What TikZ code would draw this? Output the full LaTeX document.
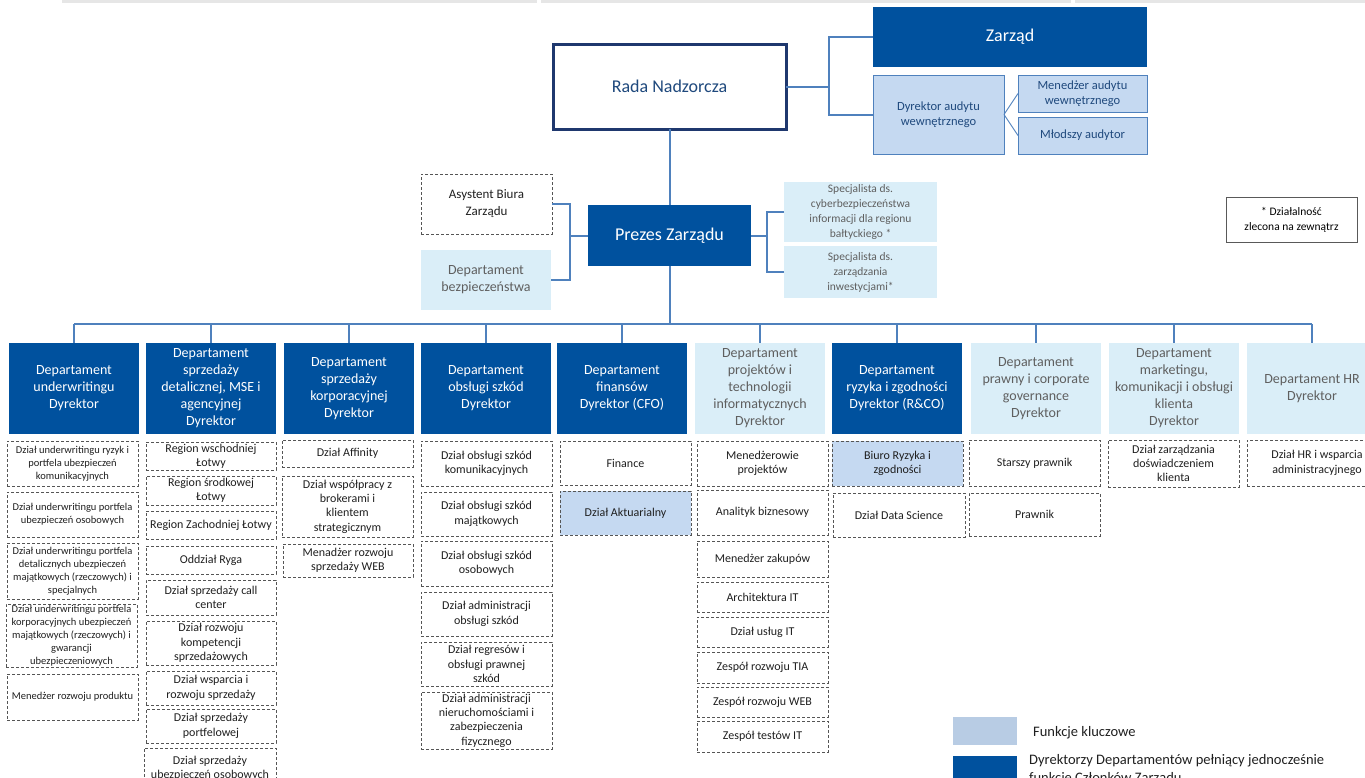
\documentclass[tikz,border=0pt]{standalone}
\usepackage{fontspec}
\setmainfont{Carlito}
\usetikzlibrary{calc}
\definecolor{dblue}{RGB}{0,81,158}
\definecolor{lcyan}{RGB}{218,238,248}
\definecolor{keyblue}{RGB}{197,217,241}
\definecolor{legkey}{RGB}{184,204,228}
\definecolor{connblue}{RGB}{79,129,189}
\definecolor{navy}{RGB}{31,56,110}
\definecolor{navytext}{RGB}{31,73,125}
\definecolor{graytext}{RGB}{95,95,95}
\definecolor{dashgray}{RGB}{85,85,85}
\definecolor{bargray}{RGB}{230,230,230}
\newcommand\fBig{\fontsize{18}{22}\selectfont}
\newcommand\fHead{\fontsize{14}{17}\selectfont}
\newcommand\fSub{\fontsize{12}{14.3}\selectfont}
\newcommand\fSmall{\fontsize{10.5}{13}\selectfont}
\newcommand\fMid{\fontsize{12.5}{15}\selectfont}
\newcommand\fSpec{\fontsize{11.5}{15}\selectfont}
\newcommand\fAsys{\fontsize{13}{17}\selectfont}
\newcommand\fLeg{\fontsize{14.5}{18}\selectfont}
\newcommand\orgbox[7]{\node[#2, minimum width={#5-#3}, minimum height={#6-#4}] (#1) at ({(#3+#5)/2},{(#4+#6)/2}) {#7};}
\begin{document}
\begin{tikzpicture}[x=1pt,y=-1pt,
  basebox/.style={inner sep=1pt, outer sep=0pt, align=center},
  darkbox/.style={basebox, fill=dblue, text=white},
  cyanbox/.style={basebox, fill=lcyan, text=graytext},
  dashbox/.style={basebox, draw=dashgray, line width=0.9pt, dash pattern=on 3pt off 2pt, text=black!88, font=\fSub},
  dashsmall/.style={dashbox, font=\fSmall},
  keydash/.style={dashbox, fill=keyblue},
  keybox/.style={basebox, fill=keyblue, draw=connblue, line width=0.9pt, text=navytext},
  headdark/.style={darkbox, font=\fHead},
  headcyan/.style={cyanbox, font=\fHead},
  wire/.style={draw=connblue, line width=2pt},
  thinwire/.style={draw=connblue, line width=0.9pt},
]
\useasboundingbox (0,0) rectangle (1365,777);
\clip (0,0) rectangle (1365,777);

% top grey strips
\fill[bargray] (62,0) rectangle (537,3);
\fill[bargray] (541,0) rectangle (1071,3);
\fill[bargray] (1075,0) rectangle (1365,3);

% top level
\orgbox{zarzad}{darkbox,font=\fBig}{873}{7}{1147}{67}{Zarząd}
\orgbox{rada}{basebox,fill=white,draw=navy,line width=3pt,text=navytext,font=\fBig}{553}{44}{786}{129}{Rada Nadzorcza}
\orgbox{dyr}{keybox,font=\fMid}{873}{75}{1004}{154}{Dyrektor audytu\\wewnętrznego}
\orgbox{men}{keybox,font=\fMid}{1018}{75}{1147}{112}{Menedżer audytu\\wewnętrznego}
\orgbox{mlo}{keybox,font=\fMid}{1018}{117}{1147}{154}{Młodszy audytor}

\orgbox{prezes}{darkbox,font=\fBig}{588}{205}{751}{266}{Prezes Zarządu}
\orgbox{asyst}{dashbox,font=\fAsys}{421}{174}{552}{234}{Asystent Biura\\Zarządu}
\orgbox{bezp}{cyanbox,font=\fHead}{421}{250}{551}{310}{Departament\\bezpieczeństwa}
\orgbox{spec1}{cyanbox,font=\fSpec}{784}{182}{937}{242}{Specjalista ds.\\cyberbezpieczeństwa\\informacji dla regionu\\bałtyckiego *}
\orgbox{spec2}{cyanbox,font=\fSpec}{784}{246}{937}{298}{Specjalista ds.\\zarządzania\\inwestycjami*}
\orgbox{foot}{basebox,draw=black!65,line width=0.8pt,font=\fSpec}{1226}{197}{1357}{242}{* Działalność\\zlecona na zewnątrz}

% connectors top
\coordinate (rbk) at (829,86.5);
\draw[wire] (rada.east) -- (rbk);
\draw[wire] (zarzad.west) -| (rbk);
\draw[wire] (dyr.west) -| (rbk);
\draw[thinwire] (dyr.east) -- (men.west);
\draw[thinwire] (dyr.east) -- (mlo.west);
\draw[wire] (rada.south) -- (prezes.north);
\coordinate (lbk) at (570,235.5);
\draw[wire] (prezes.west) -- (lbk);
\draw[wire] (asyst.east) -| (lbk);
\draw[wire] (bezp.east) -| (lbk);
\coordinate (rbk2) at (767,235.5);
\draw[wire] (prezes.east) -- (rbk2);
\draw[wire] (spec1.west) -| (rbk2);
\draw[wire] (spec2.west) -| (rbk2);

% departments
\orgbox{d1}{headdark}{9}{343}{139}{434}{Departament\\underwritingu\\Dyrektor}
\orgbox{d2}{headdark}{146}{343}{276}{434}{Departament\\sprzedaży\\detalicznej, MSE i\\agencyjnej\\Dyrektor}
\orgbox{d3}{headdark}{284}{343}{414}{434}{Departament\\sprzedaży\\korporacyjnej\\Dyrektor}
\orgbox{d4}{headdark}{421}{343}{551}{434}{Departament\\obsługi szkód\\Dyrektor}
\orgbox{d5}{headdark}{557}{343}{687}{434}{Departament\\finansów\\Dyrektor (CFO)}
\orgbox{d6}{headcyan}{695}{343}{825}{434}{Departament\\projektów i\\technologii\\informatycznych\\Dyrektor}
\orgbox{d7}{headdark}{832}{343}{962}{434}{Departament\\ryzyka i zgodności\\Dyrektor (R\&CO)}
\orgbox{d8}{headcyan}{971}{343}{1101}{434}{Departament\\prawny i corporate\\governance\\Dyrektor}
\orgbox{d9}{headcyan}{1109}{343}{1239}{434}{Departament\\marketingu,\\komunikacji i obsługi\\klienta\\Dyrektor}
\orgbox{d10}{headcyan}{1247}{343}{1377}{434}{Departament HR\\Dyrektor}

% bus
\coordinate (busy) at (0,324);
\draw[wire] (prezes.south) -- (prezes.south |- busy);
\draw[wire] (d1.north |- busy) -- (d10.north |- busy);
\foreach \d in {d1,d2,d3,d4,d5,d6,d7,d8,d9,d10}{
  \draw[wire] (\d.north |- busy) -- (\d.north);
}

% column 1
\orgbox{c1a}{dashsmall}{7}{441}{138}{486}{Dział underwritingu ryzyk i\\portfela ubezpieczeń\\komunikacyjnych}
\orgbox{c1b}{dashsmall}{7}{492}{138}{537}{Dział underwritingu portfela\\ubezpieczeń osobowych}
\orgbox{c1c}{dashsmall}{7}{543}{138}{599}{Dział underwritingu portfela\\detalicznych ubezpieczeń\\majątkowych (rzeczowych) i\\specjalnych}
\orgbox{c1d}{dashsmall}{6}{604}{137}{667}{Dział underwritingu portfela\\korporacyjnych ubezpieczeń\\majątkowych (rzeczowych) i\\gwarancji\\ubezpieczeniowych}
\orgbox{c1e}{dashsmall}{7}{674}{138}{720}{Menedżer rozwoju produktu}

% column 2
\orgbox{c2a}{dashbox}{146}{442}{276}{470}{Region wschodniej\\Łotwy}
\orgbox{c2b}{dashbox}{146}{476}{276}{505}{Region środkowej\\Łotwy}
\orgbox{c2c}{dashbox}{146}{511}{276}{539}{Region Zachodniej Łotwy}
\orgbox{c2d}{dashbox}{146}{546}{276}{574}{Oddział Ryga}
\orgbox{c2e}{dashbox}{146}{580}{276}{615}{Dział sprzedaży call\\center}
\orgbox{c2f}{dashbox}{146}{621}{276}{665}{Dział rozwoju\\kompetencji\\sprzedażowych}
\orgbox{c2g}{dashbox}{146}{671}{276}{705}{Dział wsparcia i\\rozwoju sprzedaży}
\orgbox{c2h}{dashbox}{146}{709}{276}{743}{Dział sprzedaży\\portfelowej}
\orgbox{c2i}{dashbox}{144}{748}{276}{788}{Dział sprzedaży\\ubezpieczeń osobowych}

% column 3
\orgbox{c3a}{dashbox}{282}{440}{413}{467}{Dział Affinity}
\orgbox{c3b}{dashbox}{282}{476}{413}{537}{Dział współpracy z\\brokerami i\\klientem\\strategicznym}
\orgbox{c3c}{dashbox}{283}{544}{413}{577}{Menadżer rozwoju\\sprzedaży WEB}

% column 4
\orgbox{c4a}{dashbox}{421}{441}{552}{486}{Dział obsługi szkód\\komunikacyjnych}
\orgbox{c4b}{dashbox}{421}{492}{552}{536}{Dział obsługi szkód\\majątkowych}
\orgbox{c4c}{dashbox}{421}{541}{552}{586}{Dział obsługi szkód\\osobowych}
\orgbox{c4d}{dashbox}{421}{592}{552}{636}{Dział administracji\\obsługi szkód}
\orgbox{c4e}{dashbox}{421}{642}{552}{686}{Dział regresów i\\obsługi prawnej\\szkód}
\orgbox{c4f}{dashbox}{421}{692}{552}{749}{Dział administracji\\nieruchomościami i\\zabezpieczenia\\fizycznego}

% column 5
\orgbox{c5a}{dashbox}{560}{441}{691}{485}{Finance}
\orgbox{c5b}{keydash}{560}{491}{691}{535}{Dział Aktuarialny}

% column 6
\orgbox{c6a}{dashbox}{697}{441}{828}{486}{Menedżerowie\\projektów}
\orgbox{c6b}{dashbox}{697}{490}{828}{535}{Analityk biznesowy}
\orgbox{c6c}{dashbox}{697}{541}{828}{577}{Menedżer zakupów}
\orgbox{c6d}{dashbox}{697}{582}{828}{612}{Architektura IT}
\orgbox{c6e}{dashbox}{697}{617}{828}{647}{Dział usług IT}
\orgbox{c6f}{dashbox}{697}{652}{828}{683}{Zespół rozwoju TIA}
\orgbox{c6g}{dashbox}{697}{687}{828}{717}{Zespół rozwoju WEB}
\orgbox{c6h}{dashbox}{697}{721}{828}{752}{Zespół testów IT}

% column 7
\orgbox{c7a}{keydash}{832}{441}{963}{486}{Biuro Ryzyka i\\zgodności}
\orgbox{c7b}{dashbox}{833}{493}{965}{537}{Dział Data Science}

% column 8
\orgbox{c8a}{dashbox}{969}{440}{1100}{486}{Starszy prawnik}
\orgbox{c8b}{dashbox}{969}{493}{1100}{536}{Prawnik}

% column 9
\orgbox{c9a}{dashbox}{1108}{440}{1239}{487}{Dział zarządzania\\doświadczeniem\\klienta}

% column 10
\orgbox{c10a}{dashbox}{1247}{440}{1387}{486}{Dział HR i wsparcia\\administracyjnego}

% legend
\orgbox{sw1}{basebox,fill=legkey}{953}{717}{1017}{745}{}
\orgbox{sw2}{basebox,fill=dblue}{953}{756}{1017}{800}{}
\node[anchor=west, inner sep=0pt, font=\fLeg, text=black!88] (leg1) at (1033,733) {Funkcje kluczowe};
\node[anchor=base west, inner sep=0pt, font=\fLeg, text=black!88] (leg2a) at (1029,764) {Dyrektorzy Departamentów pełniący jednocześnie};
\node[anchor=base west, inner sep=0pt, font=\fLeg, text=black!88] (leg2b) at (1029,782) {funkcje Członków Zarządu};
\end{tikzpicture}
\end{document}
